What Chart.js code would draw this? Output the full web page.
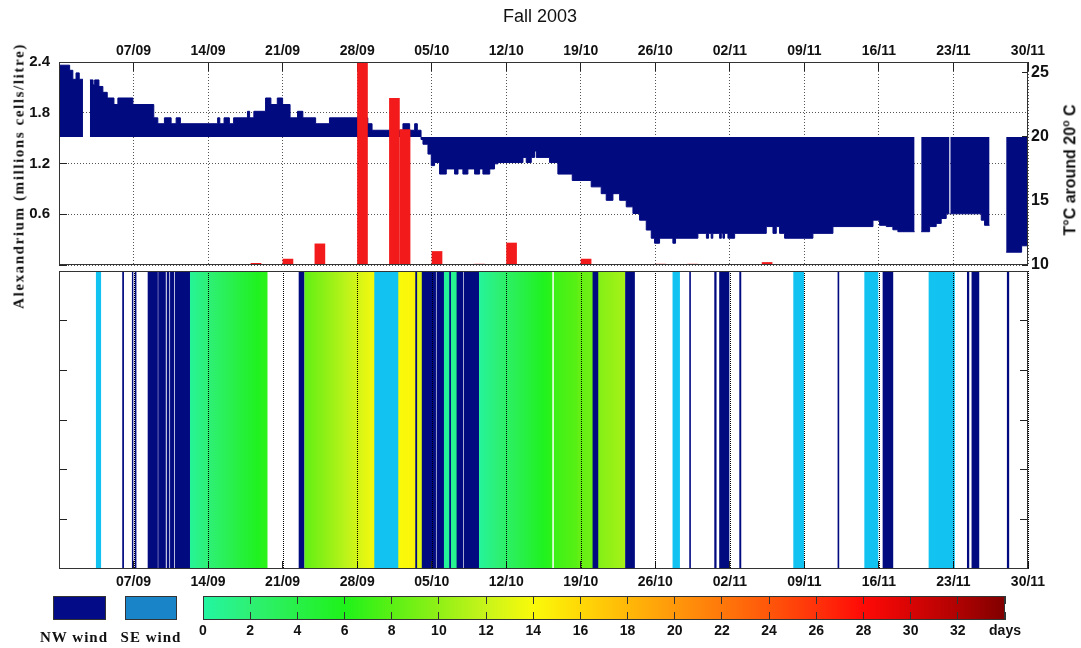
<!DOCTYPE html>
<html>
<head>
<meta charset="utf-8">
<script src="https://cdn.jsdelivr.net/npm/chart.js@4.4.0/dist/chart.umd.min.js"></script>
<style>
  body { margin: 0; background: #fff; width: 1081px; height: 648px; overflow: hidden; position: relative; font-family: "Liberation Sans", Arial, sans-serif; }
  canvas { position: absolute; left: 0; }
  .txt { position: absolute; white-space: nowrap; color: #111; transform: translate(-50%, -50%); }
  .rot { transform: translate(-50%, -50%) rotate(-90deg); }
  .serif { font-family: "Liberation Serif", "Times New Roman", serif; font-weight: bold; }
  .box { position: absolute; border: 1px solid #333; box-sizing: border-box; }
  sup { font-size: 0.65em; }
</style>
</head>
<body>
<canvas id="topChart" width="1081" height="282" style="top:0"></canvas>
<canvas id="windChart" width="1081" height="324" style="top:268px"></canvas>
<canvas id="barChart" width="1081" height="58" style="top:590px"></canvas>

<div class="txt" style="left:540px; top:16px; font-size:18px;">Fall 2003</div>
<div class="txt rot serif" style="left:19px; top:176px; font-size:15px; letter-spacing:1.6px;">Alexandrium (millions cells/litre)</div>
<div class="txt rot" style="left:1070px; top:170px; font-size:16px; font-weight:bold;">T°C around 20<sup>o</sup> C</div>

<div class="box" style="left:53px; top:596px; width:53px; height:24px; background:#030b86;"></div>
<div class="box" style="left:125px; top:596px; width:52px; height:24px; background:#1a84c8;"></div>
<div class="txt serif" style="left:74px; top:637px; font-size:15px; letter-spacing:1px;">NW wind</div>
<div class="txt serif" style="left:151px; top:637px; font-size:15px; letter-spacing:1px;">SE wind</div>

<script>
// days counted from 31/08/2003
const tickDays = [7, 14, 21, 28, 35, 42, 49, 56, 63, 70, 77, 84, 91];
const tickLabels = ['07/09', '14/09', '21/09', '28/09', '05/10', '12/10', '19/10', '26/10', '02/11', '09/11', '16/11', '23/11', '30/11'];

// Alexandrium counts (millions cells/litre)
const alexDays = [18.5, 21.5, 24.5, 28.5, 31.5, 32.5, 35.5, 39.5, 42.5, 49.5, 56.5, 59.5, 66.5];
const alexValues = [0.02, 0.07, 0.25, 2.4, 1.97, 1.6, 0.16, 0.01, 0.26, 0.07, 0.01, 0.01, 0.03];
const alexTicks = [0, 0.6, 1.2, 1.8, 2.4];

// water temperature, step series (null = no data)
const tempDays = [0, 1.0, 1.3, 1.6, 1.9, 2.25, 2.5, 2.9, 3.2, 3.35, 3.75, 4.12, 4.53, 5.16, 5.53, 6.94, 8.9, 9.28, 9.9, 10.53,
  11.0, 11.4, 14.9, 15.1, 15.5, 16.0, 16.4, 17.7, 17.9, 18.3, 19.4, 19.9, 20.5, 21.0, 21.7, 22.4, 22.9, 24.1, 25.4, 29.0,
  29.4, 32.3, 32.93, 33.4, 33.65, 34.0, 34.18, 34.65, 34.96, 35.27, 35.74, 36.37, 37.15, 37.47, 37.93, 38.4, 39.03, 39.5, 39.81, 40.45,
  40.9, 41.22, 43.57, 43.88, 44.35, 44.66, 44.82, 46.07, 46.85, 48.2, 49.98, 50.92, 51.39, 52.02, 52.65, 53.27, 53.9, 54.52, 55.15, 55.62,
  55.93, 56.4, 57.65, 57.9, 60.0, 60.8, 61.0, 61.25, 61.4, 62.04, 62.2, 62.35, 62.5, 62.82, 63.45, 66.42, 67.05, 67.36, 67.67, 68.14,
  70.8, 72.68, 76.44, 77.06, 77.69, 78.31, 78.78, 80.35, 80.6, 80.97, 81.76, 82.38, 82.85, 83.32, 83.63, 83.66, 83.7, 86.61, 86.92, 87.39,
  88.0, 88.95, 90.4, 91];
const tempValues = [25.6, 25.2, 24.5, 25.0, 24.5, 24.5, null, 24.45, 24.07, 24.45, 23.94, 23.48, 23.04, 22.53, 23.04, 22.53, 21.49, 21.03, 21.49, 21.03,
  21.49, 21.03, 21.49, 21.03, 21.49, 21.03, 21.49, 22.0, 21.49, 22.0, 23.04, 22.53, 23.04, 22.53, 21.49, 22.0, 21.49, 21.03, 21.49, 21.03,
  20.52, 21.03, 20.52, 21.03, 20.52, 19.8, 19.43, 18.66, 17.76, 18.0, 17.1, 17.5, 17.1, 17.5, 17.1, 17.5, 17.1, 17.5, 17.1, 17.5,
  17.9, 18.0, 18.4, 18.0, 18.4, 18.9, 18.4, 18.0, 17.1, 16.6, 16.1, 15.57, 15.05, 15.57, 15.05, 14.54, 14.02, 13.5, 12.73, 12.09,
  11.7, 12.09, 11.7, 12.09, 12.47, 12.09, 12.47, 12.09, 12.47, 12.09, 12.47, 12.09, 12.47, 12.09, 12.47, 13.0, 12.47, 13.0, 12.47, 12.09,
  12.47, 13.0, 13.5, 13.1, 13.0, 12.75, 12.6, 12.6, null, 12.6, 13.0, 13.25, 13.63, 14.0, 14.0, null, 14.0, 13.5, 13.1, 13.1,
  null, 11.0, 11.5, 11.5];
const tempTicks = [10, 15, 20, 25];

// wind events (start / end day)
const nwStart = [5.97, 6.88, 7.15, 8.36, 9.35, 10.15, 10.46, 10.9, 22.54, 33.49, 34.1, 35.49, 36.68, 37.37, 38.05, 50.14, 53.2, 59.22, 61.57, 62.03, 63.92, 73.15, 77.38, 85.3, 85.73, 89.05];
const nwEnd = [6.07, 6.95, 7.24, 9.25, 10.0, 10.33, 10.77, 12.27, 23.0, 33.6, 35.37, 36.12, 36.78, 37.93, 39.41, 50.61, 54.05, 59.31, 61.72, 62.92, 64.04, 73.24, 78.31, 85.45, 86.39, 89.2];
const seStart = [3.5, 29.64, 57.65, 68.99, 75.66, 81.7];
const seEnd = [3.92, 31.83, 58.28, 69.93, 76.91, 84.1];

// periods without wind, coloured by days elapsed
const calmStart = [12.27, 23.07, 31.83, 33.6, 36.12, 36.78, 39.41, 46.5, 48.73, 50.61];
const calmEnd = [19.55, 29.64, 33.49, 34.1, 36.68, 37.37, 46.3, 48.73, 50.14, 53.15];
const calmAgeFrom = [0.5, 8.3, 14, 13, 0.3, 0.6, 0.3, 7, 8.3, 9.5];
const calmAgeTo = [6.5, 13.8, 14.3, 13, 0.6, 1.0, 6.5, 8, 8.8, 10.8];

// colour scale (days)
const cmapDays = [0, 2, 4, 6, 8, 10, 12, 14, 16, 18, 20, 22, 24, 26, 28, 30, 32, 34];
const cmapColors = ['#22f5a2', '#2ef074', '#28f048', '#1ef21a', '#5af014', '#90f016', '#c8f41a', '#fafa0a', '#ffd806', '#ffb808',
  '#ff980a', '#ff780a', '#ff560a', '#ff320a', '#ff0a06', '#d80404', '#b00202', '#800000'];
const cbTicks = [0, 2, 4, 6, 8, 10, 12, 14, 16, 18, 20, 22, 24, 26, 28, 30, 32, 34];
const cbLabels = ['0', '2', '4', '6', '8', '10', '12', '14', '16', '18', '20', '22', '24', '26', '28', '30', '32', 'days'];

const NAVY = '#020a80';
const SE_BLUE = '#12c2f0';
const RED = '#f21a1a';
const TICK_FONT = { family: 'Liberation Sans', size: 14, weight: 'bold' };

function hexToRgb(h) {
  return [parseInt(h.slice(1, 3), 16), parseInt(h.slice(3, 5), 16), parseInt(h.slice(5, 7), 16)];
}
function cmapAt(v) {
  v = Math.max(0, Math.min(34, v));
  for (let i = 0; i < cmapDays.length - 1; i++) {
    if (v <= cmapDays[i + 1]) {
      const t = (v - cmapDays[i]) / (cmapDays[i + 1] - cmapDays[i]);
      const a = hexToRgb(cmapColors[i]), b = hexToRgb(cmapColors[i + 1]);
      const c = a.map((x, k) => Math.round(x + (b[k] - x) * t));
      return `rgb(${c[0]},${c[1]},${c[2]})`;
    }
  }
  return cmapColors[cmapColors.length - 1];
}

function dayLabel(v) {
  const i = tickDays.indexOf(v);
  return i < 0 ? '' : tickLabels[i];
}
const setTicks = list => scale => { scale.ticks = list.map(v => ({ value: v })); };
// fixed axis size, no extra room for half labels at the ends
const fixWidth = w => s => { s.width = w; s.paddingTop = 0; s.paddingBottom = 0; };

// box around each plot area; on the wind panel also the dotted date lines
const frame = {
  id: 'frame',
  afterDraw(chart) {
    const { ctx, chartArea: a } = chart;
    ctx.save();
    if (chart.canvas.id === 'windChart') {
      const xs = chart.scales.x;
      ctx.strokeStyle = '#000';
      ctx.lineWidth = 1;
      ctx.setLineDash([1, 1]);
      tickDays.forEach(d => {
        const px = Math.round(xs.getPixelForValue(d)) + 0.5;
        ctx.beginPath();
        ctx.moveTo(px, a.top);
        ctx.lineTo(px, a.bottom);
        ctx.stroke();
      });
      ctx.setLineDash([]);
    }
    ctx.strokeStyle = '#333';
    ctx.lineWidth = 1;
    ctx.strokeRect(Math.round(a.left) + 0.5, Math.round(a.top) + 0.5, Math.round(a.right - a.left) - 1, Math.round(a.bottom - a.top) - 1);
    ctx.restore();
  }
};

const common = {
  animation: false,
  responsive: false,
  devicePixelRatio: 1,
  plugins: { legend: { display: false }, tooltip: { enabled: false } }
};

// ---- top panel: Alexandrium + temperature
new Chart(document.getElementById('topChart'), {
  type: 'bar',
  data: {
    datasets: [
      {
        type: 'bar',
        label: 'Alexandrium',
        data: alexDays.map((d, i) => ({ x: d, y: alexValues[i] })),
        yAxisID: 'yA',
        backgroundColor: RED,
        barThickness: 10,
        order: 1
      },
      {
        type: 'line',
        label: 'Temperature',
        data: tempDays.map((d, i) => ({ x: d, y: tempValues[i] })),
        yAxisID: 'yT',
        stepped: true,
        spanGaps: false,
        fill: { value: 20 },
        backgroundColor: NAVY,
        borderColor: NAVY,
        borderWidth: 1,
        pointRadius: 0,
        order: 2
      }
    ]
  },
  options: {
    ...common,
    layout: { padding: { top: 0, bottom: 17, left: 0, right: 0 } },
    scales: {
      x: {
        type: 'linear', position: 'top', min: 0, max: 91, offset: false,
        afterBuildTicks: setTicks(tickDays),
        afterFit: s => { s.height = 62; },
        ticks: { autoSkip: false, maxRotation: 0, padding: 11, color: '#111', font: TICK_FONT, callback: v => dayLabel(v) },
        grid: { offset: false, color: '#555', tickLength: -9, tickColor: '#222' },
        border: { display: false, dash: [1, 2] }
      },
      yA: {
        type: 'linear', position: 'left', min: 0, max: 2.4,
        afterBuildTicks: setTicks(alexTicks),
        afterFit: fixWidth(59),
        ticks: { padding: 17, color: '#111', font: { family: 'Liberation Sans', size: 15, weight: 'bold' },
          callback: v => v === 0 ? '' : v.toFixed(1) },
        grid: { color: '#555', tickLength: -8, tickColor: '#222' },
        border: { display: false, dash: [1, 2] }
      },
      yT: {
        type: 'linear', position: 'right', min: 10, max: 25.85,
        afterBuildTicks: setTicks(tempTicks),
        afterFit: fixWidth(53),
        ticks: { padding: 9, color: '#111', font: { family: 'Liberation Sans', size: 16, weight: 'bold' } },
        grid: { drawOnChartArea: false, tickLength: -6, color: '#222' },
        border: { display: false }
      }
    }
  },
  plugins: [frame]
});

// ---- bottom panel: wind events and days without wind
function calmFill(c) {
  const i = c.dataIndex;
  const xs = c.chart.scales.x;
  if (c.type !== 'data' || !xs) return '#ffffff';
  const x0 = xs.getPixelForValue(calmStart[i]);
  const x1 = xs.getPixelForValue(calmEnd[i]);
  if (!isFinite(x0) || !isFinite(x1)) return cmapAt(calmAgeFrom[i]);
  const g = c.chart.ctx.createLinearGradient(x0, 0, x1 + 0.01, 0);
  for (let k = 0; k <= 8; k++) {
    g.addColorStop(k / 8, cmapAt(calmAgeFrom[i] + (calmAgeTo[i] - calmAgeFrom[i]) * k / 8));
  }
  return g;
}
const bandOpts = { grouped: false, barPercentage: 1, categoryPercentage: 1, borderWidth: 0 };

new Chart(document.getElementById('windChart'), {
  type: 'bar',
  data: {
    datasets: [
      { label: 'calm', data: calmStart.map((s, i) => ({ y: 0.5, x: [s, calmEnd[i]] })), backgroundColor: calmFill, order: 3, ...bandOpts },
      { label: 'SE wind', data: seStart.map((s, i) => ({ y: 0.5, x: [s, seEnd[i]] })), backgroundColor: SE_BLUE, order: 2, ...bandOpts },
      { label: 'NW wind', data: nwStart.map((s, i) => ({ y: 0.5, x: [s, nwEnd[i]] })), backgroundColor: NAVY, order: 1, ...bandOpts }
    ]
  },
  options: {
    ...common,
    indexAxis: 'y',
    layout: { padding: { top: 3, bottom: 0, left: 0, right: 0 } },
    scales: {
      x: {
        type: 'linear', position: 'bottom', min: 0, max: 91,
        afterBuildTicks: setTicks(tickDays),
        afterFit: s => { s.height = 23; },
        ticks: { autoSkip: false, maxRotation: 0, padding: 13, color: '#111', font: TICK_FONT, callback: v => dayLabel(v) },
        grid: { z: 1, drawOnChartArea: false, color: '#222', tickLength: -8 },
        border: { display: false }
      },
      y: {
        type: 'linear', min: 0, max: 1, offset: false, display: false,
        afterBuildTicks: setTicks([0.5])
      },
      yl: {
        type: 'linear', position: 'left', min: 0, max: 1,
        afterBuildTicks: setTicks([0, 0.2, 0.4, 0.6, 0.8, 1]),
        afterFit: fixWidth(59),
        ticks: { display: false },
        grid: { z: 1, drawOnChartArea: false, tickLength: -8, color: '#222' },
        border: { display: false }
      },
      yr: {
        type: 'linear', position: 'right', min: 0, max: 1,
        afterBuildTicks: setTicks([0, 0.2, 0.4, 0.6, 0.8, 1]),
        afterFit: fixWidth(53),
        ticks: { display: false },
        grid: { z: 1, drawOnChartArea: false, tickLength: -8, color: '#222' },
        border: { display: false }
      }
    }
  },
  plugins: [frame]
});

// ---- colour bar
function barFill(c) {
  const xs = c.chart.scales.x;
  if (!xs) return cmapColors[0];
  const x0 = xs.getPixelForValue(0);
  const x1 = xs.getPixelForValue(34);
  if (!isFinite(x0) || !isFinite(x1)) return cmapColors[0];
  const g = c.chart.ctx.createLinearGradient(x0, 0, x1 + 0.01, 0);
  cmapDays.forEach((d, i) => g.addColorStop(d / 34, cmapColors[i]));
  return g;
}

new Chart(document.getElementById('barChart'), {
  type: 'bar',
  data: { datasets: [{ label: 'days', data: [{ y: 0.5, x: [0, 34] }], backgroundColor: barFill, ...bandOpts }] },
  options: {
    ...common,
    indexAxis: 'y',
    layout: { padding: { top: 6, bottom: 0, left: 203, right: 76 } },
    scales: {
      x: {
        type: 'linear', position: 'bottom', min: 0, max: 34,
        afterBuildTicks: setTicks(cbTicks),
        afterFit: s => { s.height = 28; },
        ticks: { autoSkip: false, maxRotation: 0, padding: 3, color: '#111', font: TICK_FONT,
          callback: v => cbLabels[cbTicks.indexOf(v)] },
        grid: { z: 1, drawTicks: false, color: '#333' },
        border: { display: false, dash: [8, 8] }
      },
      y: {
        type: 'linear', min: 0, max: 1, offset: false, display: false,
        afterBuildTicks: setTicks([0.5])
      }
    }
  },
  plugins: [frame]
});
</script>
</body>
</html>
